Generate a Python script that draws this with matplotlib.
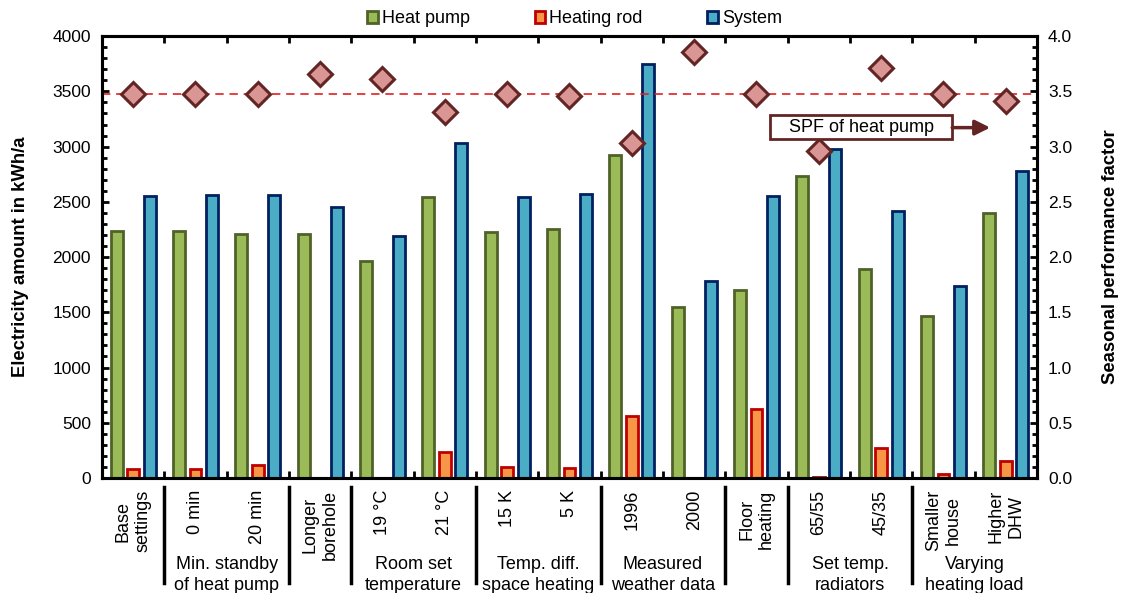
import numpy as np
import matplotlib
matplotlib.use("Agg")
import matplotlib.pyplot as plt
from matplotlib.patches import Patch, Rectangle
from matplotlib.lines import Line2D
from matplotlib.ticker import MultipleLocator

plt.rcParams["font.family"] = ["Liberation Sans", "DejaVu Sans"]
FONT_SIZE = 12.5

# ---------------------------------------------------------------------------
# Data
# ---------------------------------------------------------------------------
case_labels = ["Base\nsettings", "0 min", "20 min", "Longer\nborehole",
               "19 °C", "21 °C", "15 K", "5 K", "1996", "2000",
               "Floor\nheating", "65/55", "45/35", "Smaller\nhouse", "Higher\nDHW"]

heat_pump = [2240, 2240, 2210, 2205, 1960, 2545, 2225, 2250, 2920, 1550,
             1700, 2730, 1895, 1470, 2395]
heating_rod = [85, 85, 120, 0, 0, 235, 95, 90, 565, 0,
               620, 5, 270, 35, 155]
system = [2555, 2560, 2560, 2450, 2195, 3035, 2545, 2570, 3745, 1780,
          2550, 2975, 2415, 1735, 2780]
spf = [3.48, 3.48, 3.48, 3.66, 3.61, 3.31, 3.48, 3.46, 3.03, 3.86,
       3.48, 2.96, 3.71, 3.48, 3.41]
spf_base = 3.48

# groups: (label, first case, last case); single-case groups have no group label
groups = [("", 0, 0),
          ("Min. standby\nof heat pump", 1, 2),
          ("", 3, 3),
          ("Room set\ntemperature", 4, 5),
          ("Temp. diff.\nspace heating", 6, 7),
          ("Measured\nweather data", 8, 9),
          ("", 10, 10),
          ("Set temp.\nradiators", 11, 12),
          ("Varying\nheating load", 13, 14)]

# ---------------------------------------------------------------------------
# Styles
# ---------------------------------------------------------------------------
HP_FACE, HP_EDGE = "#9BBB59", "#4F6228"
HR_FACE, HR_EDGE = "#F79646", "#C00000"
SY_FACE, SY_EDGE = "#4BACC6", "#002060"
SPF_FACE, SPF_EDGE = "#D99694", "#632523"

fig = plt.figure(figsize=(11.22, 5.93), dpi=100)
ax = fig.add_axes([0.0909, 0.194, 0.8333, 0.745])
ax2 = ax.twinx()

x = np.arange(len(case_labels))
w = 0.19
off = 0.265

ax.bar(x - off, heat_pump, w, color=HP_FACE, edgecolor=HP_EDGE, linewidth=2, zorder=2)
ax.bar(x, heating_rod, w, color=HR_FACE, edgecolor=HR_EDGE, linewidth=2, zorder=2)
ax.bar(x + off, system, w, color=SY_FACE, edgecolor=SY_EDGE, linewidth=2, zorder=2)

ax.set_xlim(-0.5, len(case_labels) - 0.5)
ax.set_ylim(0, 4000)
ax2.set_ylim(0, 4.0)

ax2.axhline(spf_base, color="#E02020", linestyle=(0, (5, 3.5)), linewidth=1.2, zorder=1)
ax2.plot(x, spf, linestyle="none", marker="D", markersize=12,
         markerfacecolor=SPF_FACE, markeredgecolor=SPF_EDGE, markeredgewidth=2.2, zorder=3)

# annotation box with arrow
ax2.add_patch(Rectangle((10.22, 3.068), 2.92, 0.217, facecolor="white",
                        edgecolor=SPF_EDGE, linewidth=2, zorder=4))
ax2.text(11.68, 3.172, "SPF of heat pump", ha="center", va="center",
         fontsize=13, zorder=5)
ax2.annotate("", xy=(13.75, 3.172), xytext=(13.14, 3.172),
             arrowprops=dict(arrowstyle="-|>,head_length=0.9,head_width=0.45",
                             color=SPF_EDGE, lw=2.5, shrinkA=0, shrinkB=0), zorder=5)

# axes cosmetics
for a in (ax, ax2):
    for s in a.spines.values():
        s.set_linewidth(2.2)

ax.yaxis.set_major_locator(MultipleLocator(500))
ax.yaxis.set_minor_locator(MultipleLocator(100))
ax2.yaxis.set_major_locator(MultipleLocator(0.5))
ax2.yaxis.set_minor_locator(MultipleLocator(0.1))
ax2.yaxis.set_major_formatter(plt.FormatStrFormatter("%.1f"))

ax.tick_params(axis="y", which="major", direction="in", length=5, width=2,
               labelsize=FONT_SIZE, pad=8)
ax.tick_params(axis="y", which="minor", direction="in", length=3.5, width=2)
ax2.tick_params(axis="y", which="major", direction="in", length=5, width=2,
                labelsize=FONT_SIZE, pad=8)
ax2.tick_params(axis="y", which="minor", direction="in", length=3.5, width=2)

bounds = np.arange(0.5, len(case_labels) - 0.5, 1.0)
ax.set_xticks(bounds)
ax.set_xticklabels([])
ax.tick_params(axis="x", which="major", direction="in", length=5, width=2,
               top=True, bottom=True)

ax.set_ylabel("Electricity amount in kWh/a", fontsize=13.3, fontweight="bold",
              labelpad=17)
ax2.set_ylabel("Seasonal performance factor", fontsize=13.3, fontweight="bold",
               labelpad=21)

# category labels below the axis
trans = ax.get_xaxis_transform()
for i, lab in enumerate(case_labels):
    ax.text(i, -0.027, lab, rotation=90, ha="center", va="top",
            multialignment="center", fontsize=13, transform=trans,
            linespacing=1.2)

for name, i0, i1 in groups:
    if name:
        ax.text((i0 + i1) / 2, -0.176, name, ha="center", va="top",
                fontsize=13, transform=trans, linespacing=1.35)

# separators between groups
for name, i0, i1 in groups[:-1]:
    xb = i1 + 0.5
    ax.add_line(Line2D([xb, xb], [-0.02, -0.238], color="black", linewidth=2.5,
                       transform=trans, clip_on=False))

handles = [Patch(facecolor=HP_FACE, edgecolor=HP_EDGE, linewidth=2),
           Patch(facecolor=HR_FACE, edgecolor=HR_EDGE, linewidth=2),
           Patch(facecolor=SY_FACE, edgecolor=SY_EDGE, linewidth=2)]
fig.legend(handles, ["Heat pump", "Heating rod", "System"], loc="center",
           bbox_to_anchor=(0.512, 0.968), ncol=3, frameon=False, fontsize=13,
           handlelength=0.6, handleheight=0.6, handletextpad=0.2, columnspacing=3.6)

fig.savefig("out.png", dpi=100)
